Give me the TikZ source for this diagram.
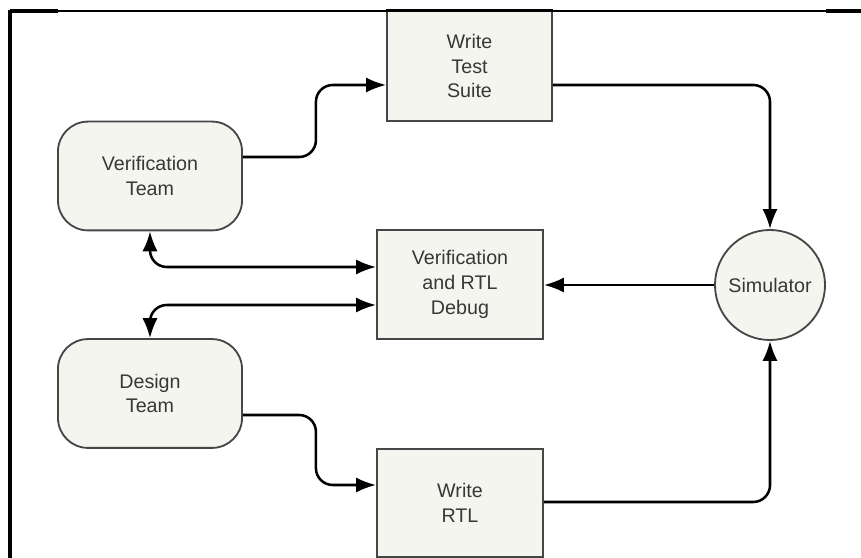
\documentclass[tikz,border=0pt]{standalone}
\usepackage{fontspec}
\setmainfont{Liberation Sans}
\usetikzlibrary{arrows.meta,calc,shapes}
\definecolor{boxfill}{RGB}{245,245,240}
\definecolor{boxline}{RGB}{70,70,70}
\definecolor{labelgray}{RGB}{55,55,55}

\begin{document}
\begin{tikzpicture}[x=0.025cm,y=0.025cm,
  >={Latex[length=5mm,width=3.8mm]},
  task/.style={draw=boxline, line width=1.3pt, fill=boxfill, minimum width=4.15cm,
    minimum height=2.73cm, align=center, text=labelgray, inner sep=0pt,
    font=\fontsize{14}{17.5}\selectfont},
  team/.style={task, rounded corners=0.75cm, minimum width=4.6cm, minimum height=2.72cm},
  sim/.style={circle, draw=boxline, line width=1.3pt, fill=boxfill, minimum size=2.75cm,
    text=labelgray, inner sep=0pt, font=\fontsize{14}{17.5}\selectfont},
  flow/.style={line width=1.8pt, rounded corners=0.42cm}]
  \useasboundingbox (0,0) rectangle (861,558);

  % Teams
  \node[team] (vt) at (150,382) {Verification\\Team};
  \node[team] (dt) at (150,164.5) {Design\\Team};

  % Tasks
  \node[task, minimum width=4.125cm, minimum height=2.75cm] (wts) at (469.5,492) {Write\\Test\\Suite};
  \node[task] (vrtl) at (460,273.5) {Verification\\and RTL\\Debug};
  \node[task, minimum height=2.7cm] (wrtl) at (460,55) {Write\\RTL};

  % Simulator
  \node[sim] (simu) at (770,273) {Simulator};

  % Flows
  \draw[flow,->] ($(vt.east)+(0,19)$) -- ++(73,0) |- ($(wts.west)+(0,-19)$);
  \draw[flow,->] ($(wts.east)+(0,-19)$) -| (simu.north);
  \draw[flow,->] ($(wrtl.east)+(0,1)$) -| (simu.south);
  \draw[flow,->] (simu.west) -- (vrtl.east |- simu.west);
  \draw[flow,<->] (vt.south) |- ($(vrtl.west)+(0,17.5)$);
  \draw[flow,<->] (dt.north) |- ($(vrtl.west)+(0,-20.5)$);
  \draw[flow,->] ($(dt.east)+(0,-21.5)$) -- ++(73,0) |- ($(wrtl.west)+(0,18)$);

  % Frame
  \draw[line width=0.9pt] (10,547) -- (861,547);
  \draw[line width=2.6pt] (10,547) -- (58,547);
  \draw[line width=2.6pt] (826,547) -- (861,547);
  \draw[line width=2.6pt] (10,548) -- (10,0);
  \draw[line width=2.2pt] (wts.north west) -- (wts.north east);
\end{tikzpicture}
\end{document}
